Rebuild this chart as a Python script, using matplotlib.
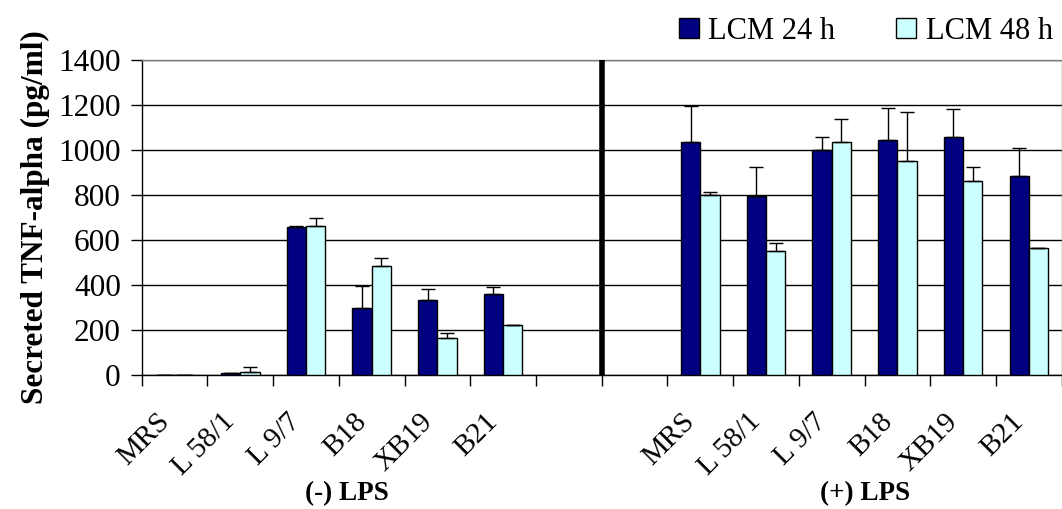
import matplotlib
matplotlib.use("Agg")
import matplotlib.pyplot as plt
import numpy as np
from matplotlib.lines import Line2D

plt.rcParams['font.family'] = ['Liberation Serif', 'DejaVu Serif']

# Strains tested
strains = ["MRS", "L 58/1", "L 9/7", "B18", "XB19", "B21"]

# Secreted TNF-alpha (pg/ml), without LPS
neg_24h = [1, 8, 657, 296, 335, 359]
neg_24h_err = [0, 2, 3, 101, 46, 32]
neg_48h = [1, 12, 662, 486, 164, 222]
neg_48h_err = [0, 22, 34, 35, 23, 0]

# Secreted TNF-alpha (pg/ml), with LPS
pos_24h = [1036, 797, 999, 1044, 1059, 883]
pos_24h_err = [158, 126, 60, 144, 125, 126]
pos_48h = [798, 550, 1036, 951, 861, 566]
pos_48h_err = [17, 35, 102, 216, 62, 0]

series_names = ["LCM 24 h", "LCM 48 h"]
group_names = ["(-) LPS", "(+) LPS"]

dark = "#000080"
light = "#CCFFFF"

fig = plt.figure(figsize=(10.62, 5.09), dpi=100)
ax = fig.add_axes([0.1334, 0.2633, 0.8663, 0.6188])

n = len(strains)
pos_left = np.arange(n)
pos_right = np.arange(n) + n + 2
w = 0.294

err_kw = dict(ecolor="black", elinewidth=1.0, capsize=5, capthick=1.0)

for xs, v24, e24, v48, e48 in [(pos_left, neg_24h, neg_24h_err, neg_48h, neg_48h_err),
                               (pos_right, pos_24h, pos_24h_err, pos_48h, pos_48h_err)]:
    ax.bar(xs - w / 2, v24, w, color=dark, edgecolor="black", linewidth=1.0, zorder=3,
           yerr=[np.zeros(n), e24], error_kw=err_kw)
    ax.bar(xs + w / 2, v48, w, color=light, edgecolor="black", linewidth=1.0, zorder=3,
           yerr=[np.zeros(n), e48], error_kw=err_kw)

# Separator between the two treatment groups
ax.axvline(n + 0.5, color="black", linewidth=4, zorder=4)

ax.set_xlim(-0.5, 2 * n + 1.5)
ax.set_ylim(0, 1400)
ax.set_yticks(np.arange(0, 1401, 200))
ax.yaxis.grid(True, color="black", linewidth=1.0, zorder=0)
ax.set_axisbelow(True)

# Category labels and boundary tick marks
centers = np.concatenate([pos_left, pos_right])
ax.set_xticks(centers)
ax.set_xticklabels(strains + strains, rotation=45, ha="right", va="top", fontsize=21)
ax.set_xticks(np.arange(-0.5, 2 * n + 2, 1.0), minor=True)
ax.tick_params(axis="x", which="major", length=0, pad=24)
ax.tick_params(axis="x", which="minor", length=8, width=1.0, direction="out")
ax.tick_params(axis="y", length=8, width=1.0, direction="out", pad=7, labelsize=22.5)

for s in ["left", "bottom"]:
    ax.spines[s].set_color("black")
    ax.spines[s].set_linewidth(1.0)
for s in ["top", "right"]:
    ax.spines[s].set_color("#808080")
    ax.spines[s].set_linewidth(1.0)

ax.set_ylabel("Secreted TNF-alpha (pg/ml)", fontsize=22.5, fontweight="bold", labelpad=6)

# Group titles under each half
ax.text(2.62, -0.378, group_names[0], transform=ax.get_xaxis_transform(),
        ha="center", va="center", fontsize=19.5, fontweight="bold")
ax.text(10.51, -0.378, group_names[1], transform=ax.get_xaxis_transform(),
        ha="center", va="center", fontsize=19.5, fontweight="bold")

handles = [Line2D([], [], marker="s", linestyle="none", markersize=14,
                  markerfacecolor=c, markeredgecolor="black", markeredgewidth=1.0)
           for c in (dark, light)]
fig.legend(handles, series_names, loc="upper right", bbox_to_anchor=(1.0, 0.985),
           ncol=2, frameon=False, fontsize=22, handlelength=0.8, handletextpad=0.25,
           columnspacing=1.9, borderpad=0.2, borderaxespad=0.1)

fig.savefig("out.png", dpi=100)
